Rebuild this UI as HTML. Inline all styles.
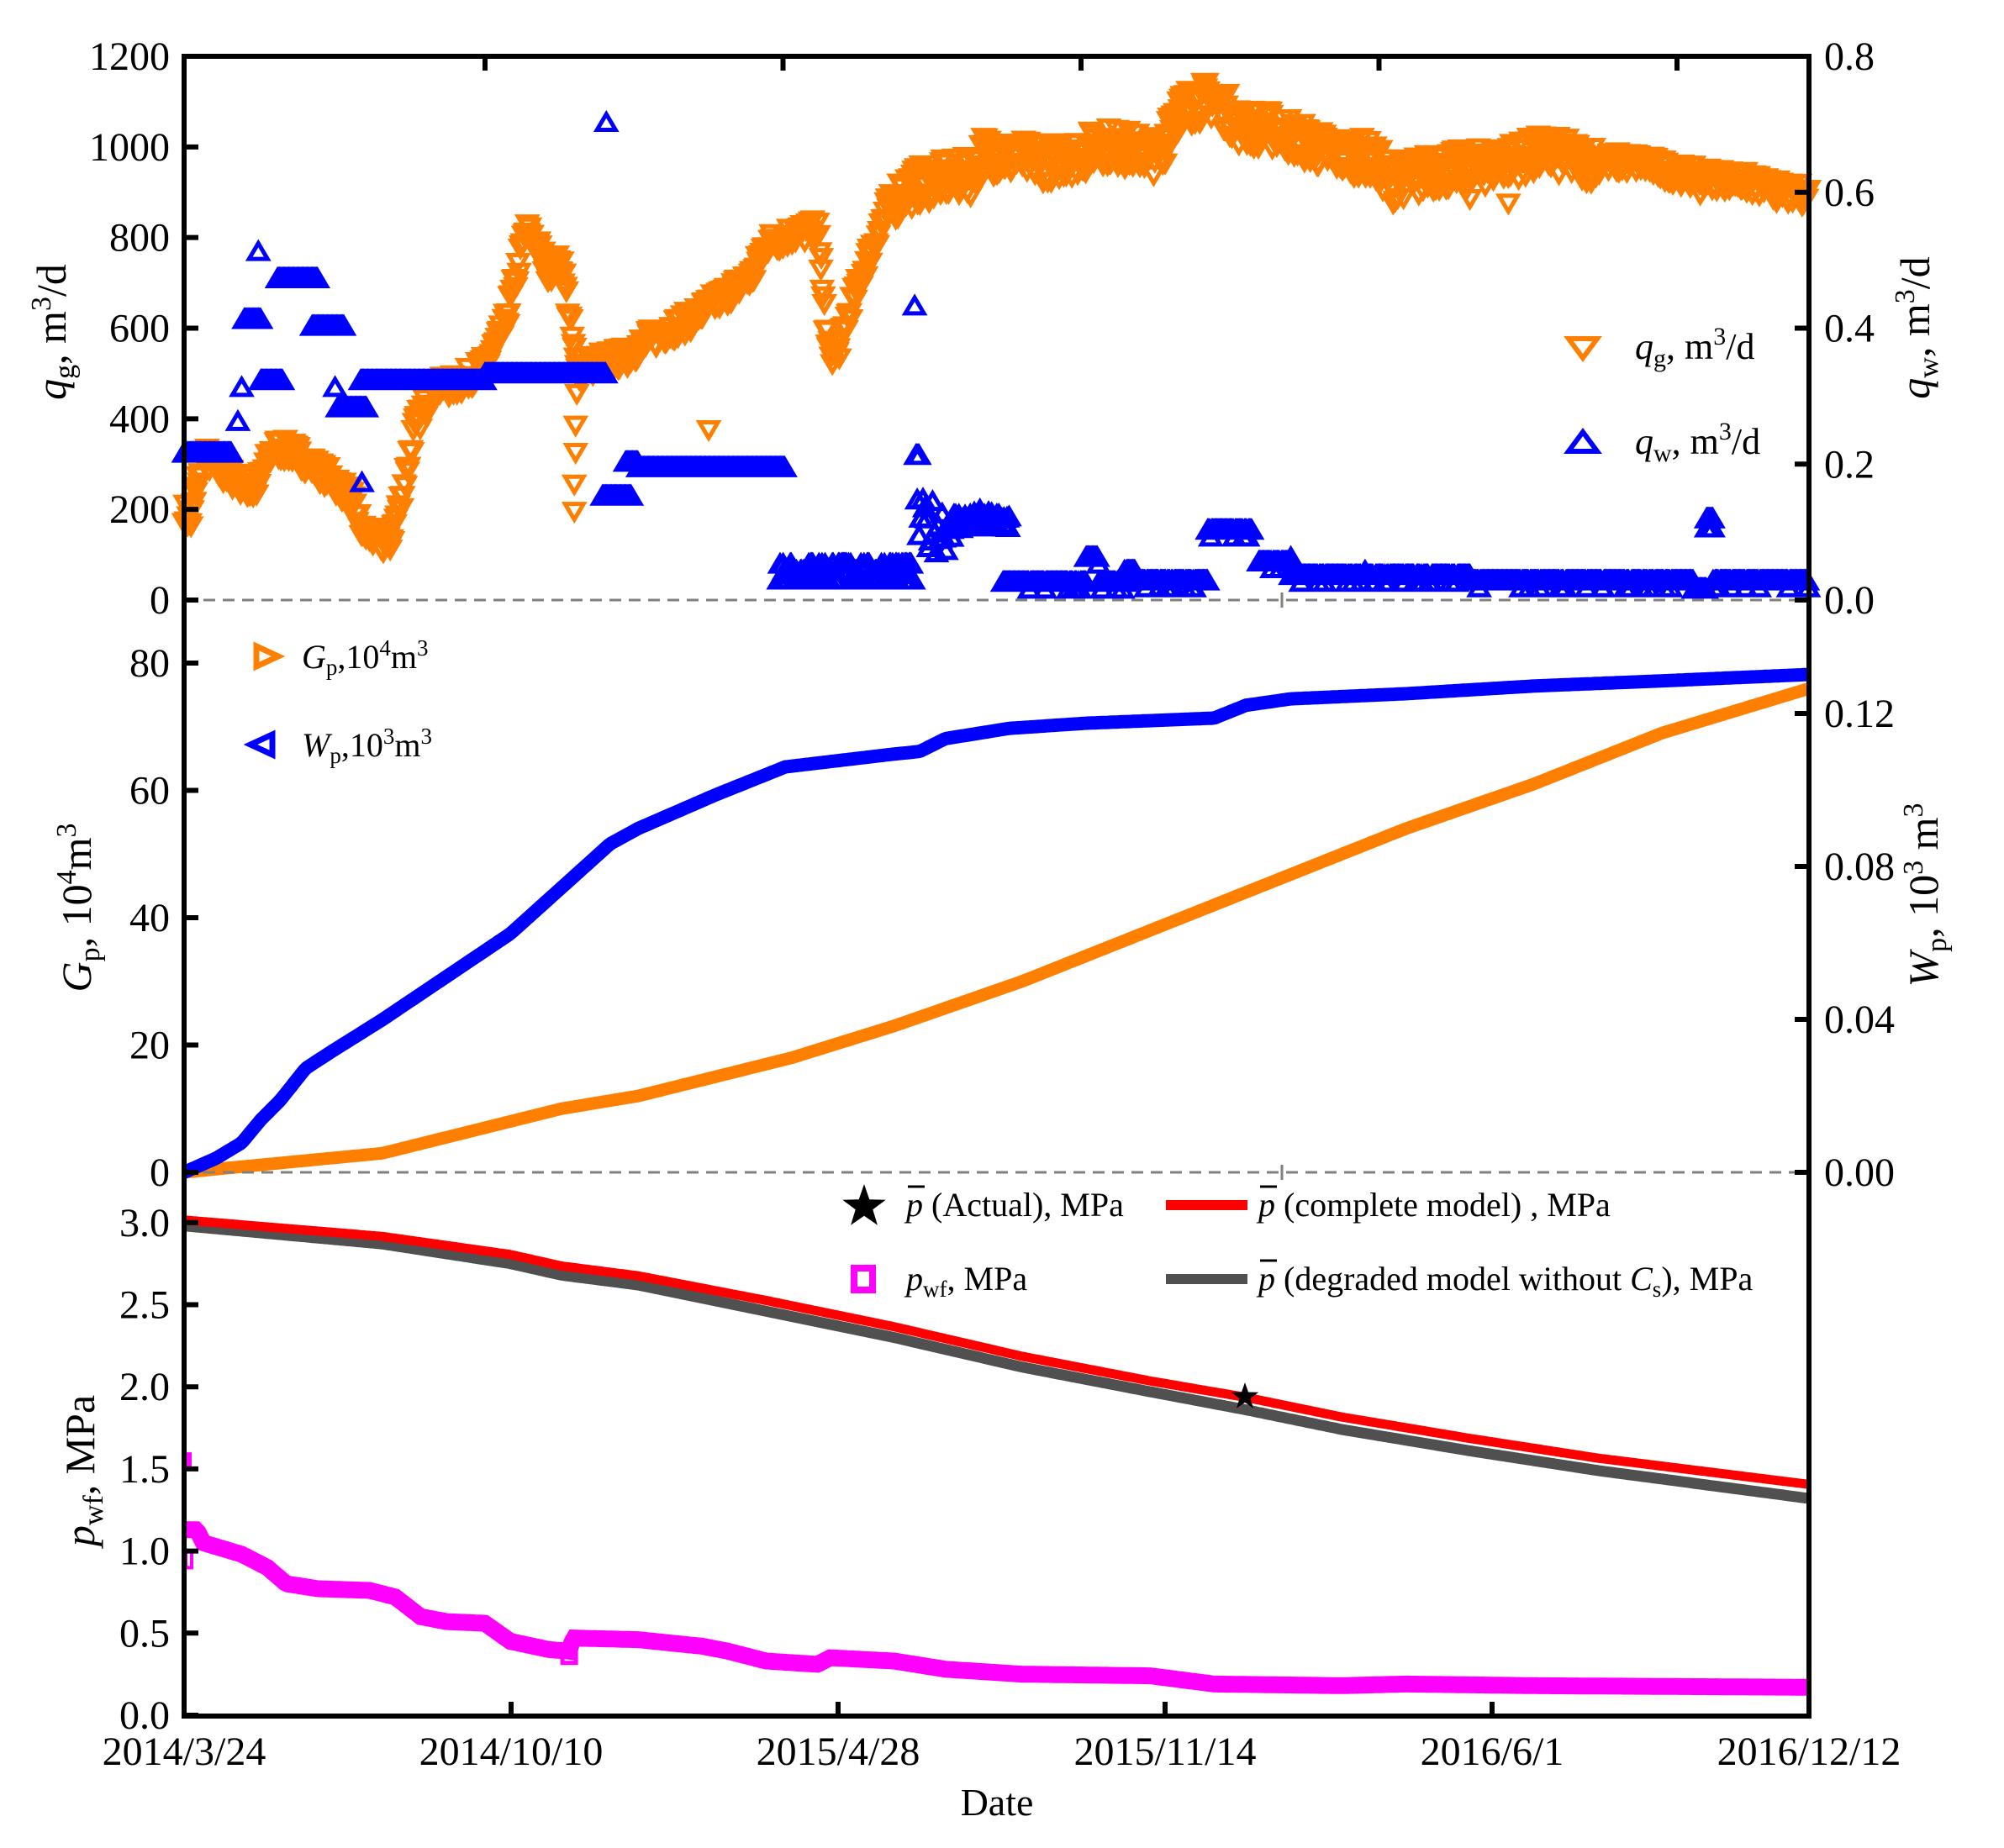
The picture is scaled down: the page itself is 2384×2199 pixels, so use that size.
<!DOCTYPE html>
<html><head><meta charset="utf-8">
<style>
html,body{margin:0;padding:0;background:#fff;}
svg{display:block;font-family:"Liberation Serif","Times New Roman",serif;}
</style></head>
<body>
<svg id="s" xmlns="http://www.w3.org/2000/svg" width="2384" height="2199" viewBox="0 0 2384 2199">
<rect width="2384" height="2199" fill="#fff"/>
<g id="data"></g>
<line x1="219" y1="714" x2="2152" y2="714" stroke="#808080" stroke-width="3" stroke-dasharray="14,9"/>
<line x1="219" y1="1395" x2="2152" y2="1395" stroke="#808080" stroke-width="3" stroke-dasharray="14,9"/>
<line x1="1525" y1="705" x2="1525" y2="723" stroke="#808080" stroke-width="3"/>
<line x1="1525" y1="1386" x2="1525" y2="1404" stroke="#808080" stroke-width="3"/>
<rect x="219" y="67" width="1933" height="1975" fill="none" stroke="#000" stroke-width="6"/>
<g id="ticks" stroke="#000" stroke-width="6"></g>
<g id="labels" font-size="48" fill="#000"></g>

<text transform="translate(78,395) rotate(-90)" text-anchor="middle" font-size="50"><tspan font-style="italic">q</tspan><tspan font-size="34" dy="10">g</tspan><tspan dy="-10">, m</tspan><tspan font-size="34" dy="-18">3</tspan><tspan dy="18">/d</tspan></text>
<text transform="translate(2295,390) rotate(-90)" text-anchor="middle" font-size="50"><tspan font-style="italic">q</tspan><tspan font-size="34" dy="10">w</tspan><tspan dy="-10">, m</tspan><tspan font-size="34" dy="-18">3</tspan><tspan dy="18">/d</tspan></text>
<text transform="translate(108,1080) rotate(-90)" text-anchor="middle" font-size="50"><tspan font-style="italic">G</tspan><tspan font-size="34" dy="10">p</tspan><tspan dy="-10">, 10</tspan><tspan font-size="34" dy="-18">4</tspan><tspan dy="18">m</tspan><tspan font-size="34" dy="-18">3</tspan></text>
<text transform="translate(2305,1065) rotate(-90)" text-anchor="middle" font-size="50"><tspan font-style="italic">W</tspan><tspan font-size="34" dy="10">p</tspan><tspan dy="-10">, 10</tspan><tspan font-size="34" dy="-18">3</tspan><tspan dy="18"> m</tspan><tspan font-size="34" dy="-18">3</tspan></text>
<text transform="translate(112,1750) rotate(-90)" text-anchor="middle" font-size="50"><tspan font-style="italic">p</tspan><tspan font-size="34" dy="10">wf</tspan><tspan dy="-10">, MPa</tspan></text>
<text x="1186" y="2160" text-anchor="middle" font-size="46">Date</text>

<path d="M1866,403 L1900,403 L1883,426 Z" fill="none" stroke="#FF7F00" stroke-width="6"/>
<text x="1945" y="427" font-size="44"><tspan font-style="italic">q</tspan><tspan font-size="30" dy="9">g</tspan><tspan dy="-9">, m</tspan><tspan font-size="30" dy="-17">3</tspan><tspan dy="17">/d</tspan></text>
<path d="M1866,537 L1900,537 L1883,514 Z" fill="none" stroke="#0000FF" stroke-width="6"/>
<text x="1945" y="540" font-size="44"><tspan font-style="italic">q</tspan><tspan font-size="30" dy="9">w</tspan><tspan dy="-9">, m</tspan><tspan font-size="30" dy="-17">3</tspan><tspan dy="17">/d</tspan></text>
<path d="M305,769 L305,793 L331,781 Z" fill="none" stroke="#FF7F00" stroke-width="7"/>
<text x="359" y="795" font-size="40"><tspan font-style="italic">G</tspan><tspan font-size="27" dy="8">p</tspan><tspan dy="-8">,10</tspan><tspan font-size="27" dy="-15">4</tspan><tspan dy="15">m</tspan><tspan font-size="27" dy="-15">3</tspan></text>
<path d="M324,874 L324,898 L298,886 Z" fill="none" stroke="#0000FF" stroke-width="7"/>
<text x="359" y="900" font-size="40"><tspan font-style="italic">W</tspan><tspan font-size="27" dy="8">p</tspan><tspan dy="-8">,10</tspan><tspan font-size="27" dy="-15">3</tspan><tspan dy="15">m</tspan><tspan font-size="27" dy="-15">3</tspan></text>
<polygon id="lstar" fill="#000"/>
<text x="1078" y="1447" font-size="40"><tspan font-style="italic">p</tspan><tspan> (Actual), MPa</tspan></text>
<line x1="1080" y1="1412" x2="1100" y2="1412" stroke="#000" stroke-width="3"/>
<line x1="1387" y1="1434" x2="1484" y2="1434" stroke="#FF0000" stroke-width="12"/>
<text x="1497" y="1447" font-size="40"><tspan font-style="italic">p</tspan><tspan> (complete model) , MPa</tspan></text>
<line x1="1499" y1="1412" x2="1519" y2="1412" stroke="#000" stroke-width="3"/>
<rect x="1016" y="1509" width="22" height="26" fill="none" stroke="#FF00FF" stroke-width="8"/>
<text x="1078" y="1535" font-size="40"><tspan font-style="italic">p</tspan><tspan font-size="27" dy="8">wf</tspan><tspan dy="-8">, MPa</tspan></text>
<line x1="1387" y1="1522" x2="1484" y2="1522" stroke="#505050" stroke-width="12"/>
<text x="1497" y="1535" font-size="40"><tspan font-style="italic">p</tspan><tspan> (degraded model without </tspan><tspan font-style="italic">C</tspan><tspan font-size="27" dy="8">s</tspan><tspan dy="-8">), MPa</tspan></text>
<line x1="1499" y1="1500" x2="1519" y2="1500" stroke="#000" stroke-width="3"/>
</svg>
<script>
(function(){
var NS="http://www.w3.org/2000/svg";
var data=document.getElementById('data'),ticks=document.getElementById('ticks'),labels=document.getElementById('labels');
function el(n,a,p){var e=document.createElementNS(NS,n);for(var k in a)e.setAttribute(k,a[k]);(p||data).appendChild(e);return e;}
var seed=7;function rnd(){seed=(seed*16807)%2147483647;return (seed-1)/2147483646;}
function X(dx){return 219+(dx-145)*(1933/1270);}
function interp(pts,x){if(x<=pts[0][0])return pts[0][1];for(var i=1;i<pts.length;i++){if(x<=pts[i][0]){var a=pts[i-1],b=pts[i];return a[1]+(b[1]-a[1])*(x-a[0])/(b[0]-a[0]);}}return pts[pts.length-1][1];}
function Yq(v){return 714-v*(647/1200);}
var qg=[[145,200],[150,170],[160,330],[170,290],[185,270],[200,240],[215,340],[230,330],[245,300],[260,270],[275,230],[285,150],[295,140],[305,120],[315,230],[325,380],[340,470],[360,480],[380,520],[395,600],[405,720],[412,820],[420,790],[430,730],[440,750],[452,510],[470,530],[490,540],[510,580],[540,620],[570,680],[590,720],[600,790],[620,810],[640,820],[648,560],[655,540],[665,640],[680,760],[695,870],[710,910],[730,930],[760,940],[770,990],[790,980],[820,970],[850,990],[860,1010],[900,990],[910,980],[915,1070],[935,1100],[950,1110],[970,1050],[1000,1040],[1040,990],[1070,980],[1090,930],[1120,950],[1160,960],[1190,980],[1210,990],[1240,970],[1280,970],[1320,940],[1360,930],[1400,900],[1415,900]];
var og="";
function tri(x,y,up,s){s=s||11;return up?("M"+(x-s)+","+(y+s*0.6)+"L"+(x+s)+","+(y+s*0.6)+"L"+x+","+(y-s*1.1)+"Z"):("M"+(x-s)+","+(y-s*0.6)+"L"+(x+s)+","+(y-s*0.6)+"L"+x+","+(y+s*1.1)+"Z");}
for(var dx=145;dx<=1415;dx+=0.9){var amp=(dx>700&&dx<1250)?90:50;var v=interp(qg,dx)+(rnd()-0.5)*amp;og+=tri(X(dx),Yq(v),false);}
[[450,200],[450,260],[451,330],[451,390],[452,460],[555,380],[643,760],[1068,960],[1090,880],[1110,900],[1150,890],[1180,880],[1240,940],[1330,900]].forEach(function(p){og+=tri(X(p[0]),Yq(p[1]),false);});
el('path',{d:og,fill:'none',stroke:'#FF7F00','stroke-width':5,'stroke-linejoin':'miter'});
var qw=[[145,182,320],[187,187,390],[190,190,465],[192,205,615],[203,203,765],[205,222,480],[218,250,705],[245,270,600],[263,263,465],[265,288,420],[284,284,255],[283,380,480],[380,475,495],[475,475,1050],[472,495,225],[490,500,300],[500,615,288],[716,716,645],[717,720,315]];
var ow="";
qw.forEach(function(s){for(var dx=s[0];dx<=s[1];dx+=0.8)ow+=tri(X(dx),Yq(s[2]),true);});
for(var dx=610;dx<=715;dx+=0.8){var v=[40,60,75][Math.floor(rnd()*3)];ow+=tri(X(dx),Yq(v),true);}
for(var dx=718;dx<=745;dx+=1.5){var v=100+rnd()*120;ow+=tri(X(dx),Yq(v),true);}
for(var dx=745;dx<=790;dx+=0.8){var v=150+rnd()*40;ow+=tri(X(dx),Yq(v),true);}
ow+=tri(X(767),Yq(195),true);
var lowsegs=[[785,850,35],[850,860,90],[860,880,35],[880,888,60],[888,945,38],[945,980,150],[985,1010,80],[1010,1150,50],[1150,1325,38],[1325,1335,20],[1335,1340,175],[1335,1340,155],[1340,1415,38]];
lowsegs.forEach(function(s){for(var dx=s[0];dx<=s[1];dx+=0.8){var v=s[2]+(rnd()<0.1?-15:0);ow+=tri(X(dx),Yq(v),true);}});
ow+=tri(X(1010),Yq(90),true);ow+=tri(X(1068),Yq(60),true);
el('path',{d:ow,fill:'none',stroke:'#0000FF','stroke-width':5});
function Yg(v){return 1395-v*7.575;}
function Yd(dy){return 714+(dy-470)*1.527;}
var gp=[[145,0],[170,0.5],[300,3],[320,4],[350,5.5],[400,8],[440,10],[500,12],[560,15],[620,18],[700,23],[800,30],[900,38],[1000,46],[1100,54],[1200,61],[1300,69],[1415,76]];
var wp=[[145,916],[170,905],[190,893],[205,875],[220,860],[240,835],[260,822],[300,797],[400,730],[478,660],[500,648],[560,622],[615,600],[700,590],[720,588],[740,578],[790,570],[850,566],[950,562],[975,552],[1010,547],[1100,543],[1200,537],[1300,533],[1415,528]];
var d1="",d2="";
for(var dx=145;dx<=1415;dx+=2){d1+=(dx==145?"M":"L")+X(dx).toFixed(1)+","+Yg(interp(gp,dx)).toFixed(1);d2+=(dx==145?"M":"L")+X(dx).toFixed(1)+","+Yd(interp(wp,dx)).toFixed(1);}
el('path',{d:d1,fill:'none',stroke:'#FF7F00','stroke-width':15});
el('path',{d:d2,fill:'none',stroke:'#0000FF','stroke-width':16});
function Yp(v){return 2041-v*195.4;}
var red=[[145,2.99],[300,2.89],[400,2.78],[440,2.71],[500,2.65],[600,2.50],[700,2.34],[800,2.16],[900,2.01],[975,1.91],[1050,1.79],[1150,1.66],[1250,1.54],[1415,1.38]];
var gry=[[145,2.98],[300,2.87],[400,2.75],[440,2.68],[500,2.62],[600,2.46],[700,2.30],[800,2.12],[900,1.97],[975,1.86],[1050,1.74],[1150,1.61],[1250,1.49],[1415,1.32]];
var pw=[[146,1.13],[155,1.13],[160,1.05],[190,0.98],[210,0.9],[225,0.8],[250,0.77],[290,0.76],[310,0.72],[330,0.6],[350,0.57],[380,0.56],[400,0.45],[430,0.4],[446,0.39],[449,0.47],[500,0.46],[550,0.42],[570,0.39],[600,0.33],[640,0.31],[650,0.35],[700,0.33],[740,0.28],[800,0.25],[900,0.24],[950,0.19],[1050,0.18],[1100,0.19],[1200,0.18],[1415,0.17]];
var r="",g="",m="";
for(var dx=145;dx<=1415;dx+=2){var xx=X(dx).toFixed(1);r+=(dx==145?"M":"L")+xx+","+Yp(interp(red,dx)).toFixed(1);g+=(dx==145?"M":"L")+xx+","+Yp(interp(gry,dx)).toFixed(1);}
for(var dx=146;dx<=1415;dx+=2){m+=(dx==146?"M":"L")+X(dx).toFixed(1)+","+Yp(interp(pw,dx)).toFixed(1);}
el('path',{d:g,fill:'none',stroke:'#505050','stroke-width':13});
el('path',{d:r,fill:'none',stroke:'#FF0000','stroke-width':11,transform:'translate(0,-5)'});
el('path',{d:m,fill:'none',stroke:'#FF00FF','stroke-width':20});
el('rect',{x:222,y:Yp(1.55)-10,width:6,height:22,fill:'#FF00FF'});
el('rect',{x:221,y:Yp(0.95)-10,width:7,height:20,fill:'none',stroke:'#FF00FF','stroke-width':4});
el('rect',{x:X(446)-8,y:Yp(0.37)-10,width:16,height:20,fill:'none',stroke:'#FF00FF','stroke-width':5});
function star(cx,cy,R){var p=[];for(var i=0;i<10;i++){var a=-Math.PI/2+i*Math.PI/5,rr=i%2?R*0.4:R;p.push((cx+rr*Math.cos(a)).toFixed(1)+","+(cy+rr*Math.sin(a)).toFixed(1));}return p.join(" ");}
el('polygon',{points:star(1481,1662,17),fill:'#000'});
document.getElementById('lstar').setAttribute('points',star(1028,1436,27));
function tk(x1,y1,x2,y2){el('line',{x1:x1,y1:y1,x2:x2,y2:y2},ticks);}
function lb(x,y,t,anc){var e=el('text',{x:x,y:y,'text-anchor':anc},labels);e.textContent=t;}
var L=219,R=2152;
[0,200,400,600,800,1000,1200].forEach(function(v){var y=Yq(v);tk(L,y,L+17,y);lb(202,y+16,v,'end');});
[0,0.2,0.4,0.6,0.8].forEach(function(v){var y=Yq(v*1500);tk(R,y,R-17,y);lb(2170,y+16,v.toFixed(1),'start');});
[0,20,40,60,80].forEach(function(v){var y=Yg(v);tk(L,y,L+17,y);lb(202,y+16,v,'end');});
[0,0.04,0.08,0.12].forEach(function(v){var y=1395-v/0.04*182;tk(R,y,R-17,y);lb(2170,y+16,v.toFixed(2),'start');});
[0,0.5,1,1.5,2,2.5,3].forEach(function(v){var y=Yp(v);tk(L,y,L+17,y);lb(202,y+16,v.toFixed(1),'end');});
var dl=["2014/3/24","2014/10/10","2015/4/28","2015/11/14","2016/6/1","2016/12/12"];
for(var i=0;i<6;i++){var x=219+i*200*1.945;if(i==5)x=2152;if(i>0&&i<5)tk(x,2042,x,2025);lb(x,2100,dl[i],'middle');}
for(var i=0;i<5;i++){var x=577+i*354.5;tk(x,67,x,84);}
})();
</script>
</body></html>
